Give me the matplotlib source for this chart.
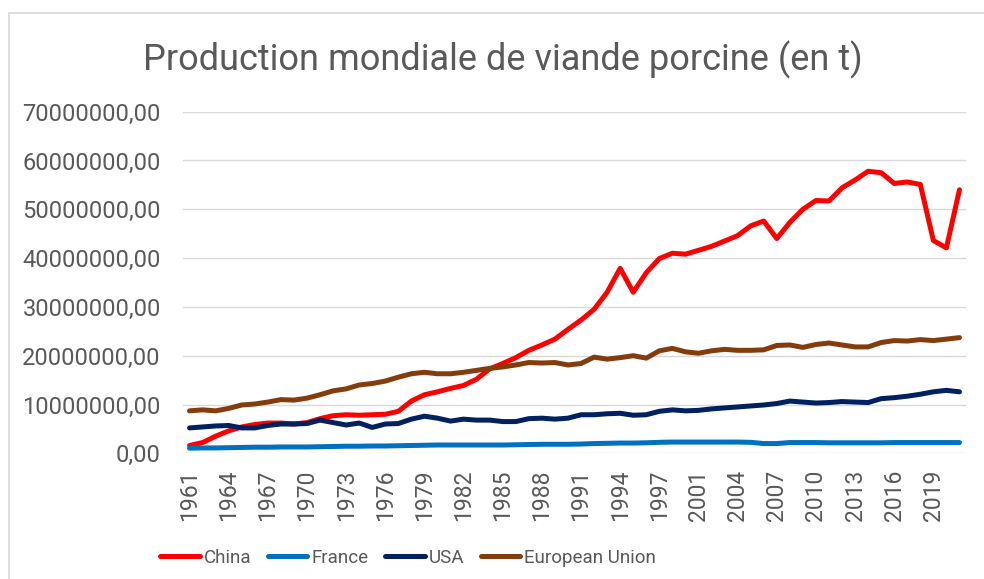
import numpy as np
import matplotlib.pyplot as plt
from matplotlib.patches import Rectangle
from matplotlib.ticker import FuncFormatter

# years (2000 is missing in the source table)
years = list(range(1961, 2000)) + list(range(2001, 2022))

# production in million tonnes
china = [1.6, 2.2, 3.5, 4.6, 5.4, 5.9, 6.2, 6.2, 6.0, 6.3,
         7.1, 7.7, 7.9, 7.8, 7.9, 8.0, 8.6, 10.7, 12.0, 12.6,
         13.3, 13.9, 15.2, 17.3, 18.4, 19.6, 21.1, 22.2, 23.4, 25.4,
         27.3, 29.5, 33.0, 37.9, 33.0, 37.0, 39.9, 41.0, 40.8,
         41.6, 42.4, 43.5, 44.6, 46.6, 47.6, 44.0, 47.3, 50.0, 51.8,
         51.7, 54.4, 56.0, 57.8, 57.5, 55.3, 55.6, 55.1, 43.6, 42.1, 54.0]
france = [1.05, 1.1, 1.1, 1.15, 1.2, 1.25, 1.25, 1.3, 1.3, 1.3,
          1.35, 1.4, 1.45, 1.45, 1.5, 1.5, 1.55, 1.6, 1.65, 1.7,
          1.7, 1.7, 1.7, 1.7, 1.7, 1.75, 1.8, 1.85, 1.85, 1.85,
          1.9, 2.0, 2.05, 2.1, 2.1, 2.15, 2.25, 2.3, 2.3,
          2.3, 2.3, 2.3, 2.3, 2.25, 2.0, 2.0, 2.2, 2.2, 2.2,
          2.15, 2.15, 2.15, 2.15, 2.15, 2.2, 2.2, 2.2, 2.2, 2.2, 2.2]
usa = [5.2, 5.4, 5.6, 5.7, 5.2, 5.2, 5.7, 6.0, 6.0, 6.1,
       6.8, 6.3, 5.8, 6.2, 5.3, 6.0, 6.1, 7.0, 7.6, 7.2,
       6.6, 7.0, 6.8, 6.8, 6.5, 6.5, 7.1, 7.2, 7.0, 7.2,
       7.9, 7.9, 8.1, 8.2, 7.8, 7.9, 8.6, 8.9, 8.7,
       8.8, 9.1, 9.3, 9.5, 9.7, 9.9, 10.2, 10.7, 10.5, 10.3,
       10.4, 10.6, 10.5, 10.4, 11.2, 11.4, 11.7, 12.1, 12.6, 12.9, 12.6]
eu = [8.7, 8.9, 8.7, 9.2, 9.9, 10.1, 10.5, 11.0, 10.9, 11.3,
      12.0, 12.8, 13.2, 14.0, 14.3, 14.8, 15.6, 16.3, 16.6, 16.3,
      16.3, 16.6, 17.0, 17.4, 17.7, 18.1, 18.6, 18.5, 18.6, 18.1,
      18.4, 19.7, 19.3, 19.6, 20.0, 19.5, 21.0, 21.5, 20.8,
      20.5, 21.0, 21.3, 21.1, 21.1, 21.2, 22.1, 22.2, 21.7, 22.3,
      22.6, 22.2, 21.8, 21.8, 22.7, 23.1, 23.0, 23.3, 23.1, 23.4, 23.7]

series = [("China", china, "#FF0000"),
          ("France", france, "#0070C0"),
          ("USA", usa, "#002060"),
          ("European Union", eu, "#843C0C")]

grey = "#595959"
font = "Roboto"

fig = plt.figure(figsize=(9.84, 5.79), dpi=100)

# chart border (cropped on the right and bottom)
fig.patches.append(Rectangle((9 / 984, -0.1), 1.2, 1 - 13 / 579 + 0.1,
                             transform=fig.transFigure, fill=False,
                             edgecolor="#D9D9D9", linewidth=1.2))

ax = fig.add_axes([183 / 984, 1 - 453.3 / 579, 783 / 984, 341.6 / 579])

x = np.arange(len(years))
for name, vals, col in series:
    ax.plot(x, np.array(vals) * 1e6, color=col, lw=3.6, label=name,
            solid_capstyle="round", solid_joinstyle="round")

ax.set_xlim(-0.5, len(years) - 0.5)
ax.set_ylim(0, 70e6)
ax.set_yticks(np.arange(0, 70e6 + 1, 10e6))
ax.yaxis.set_major_formatter(FuncFormatter(lambda v, p: f"{v:.2f}".replace(".", ",")))
ax.set_xticks(x[::3])
ax.set_xticklabels([str(y) for y in years[::3]], rotation=90)

ax.grid(axis="y", color="#D9D9D9", lw=1.0)
ax.set_axisbelow(True)
for s in ax.spines.values():
    s.set_visible(False)
ax.tick_params(axis="y", length=0, pad=16, labelsize=17, labelcolor=grey)
ax.tick_params(axis="x", length=0, pad=12, labelsize=16.5, labelcolor=grey)
for lab in ax.get_xticklabels() + ax.get_yticklabels():
    lab.set_fontfamily(font)

fig.text(503 / 984, 1 - 70 / 579, "Production mondiale de viande porcine (en t)",
         ha="center", va="baseline", fontsize=26, color=grey, fontfamily=font)

leg = fig.legend(loc="center", bbox_to_anchor=(408 / 984, 1 - 558 / 579), ncol=4,
                 frameon=False, handlelength=2.1, handletextpad=0.2,
                 columnspacing=0.9, prop={"family": font, "size": 13.5})
for t in leg.get_texts():
    t.set_color(grey)

fig.savefig("out.png", dpi=100)
